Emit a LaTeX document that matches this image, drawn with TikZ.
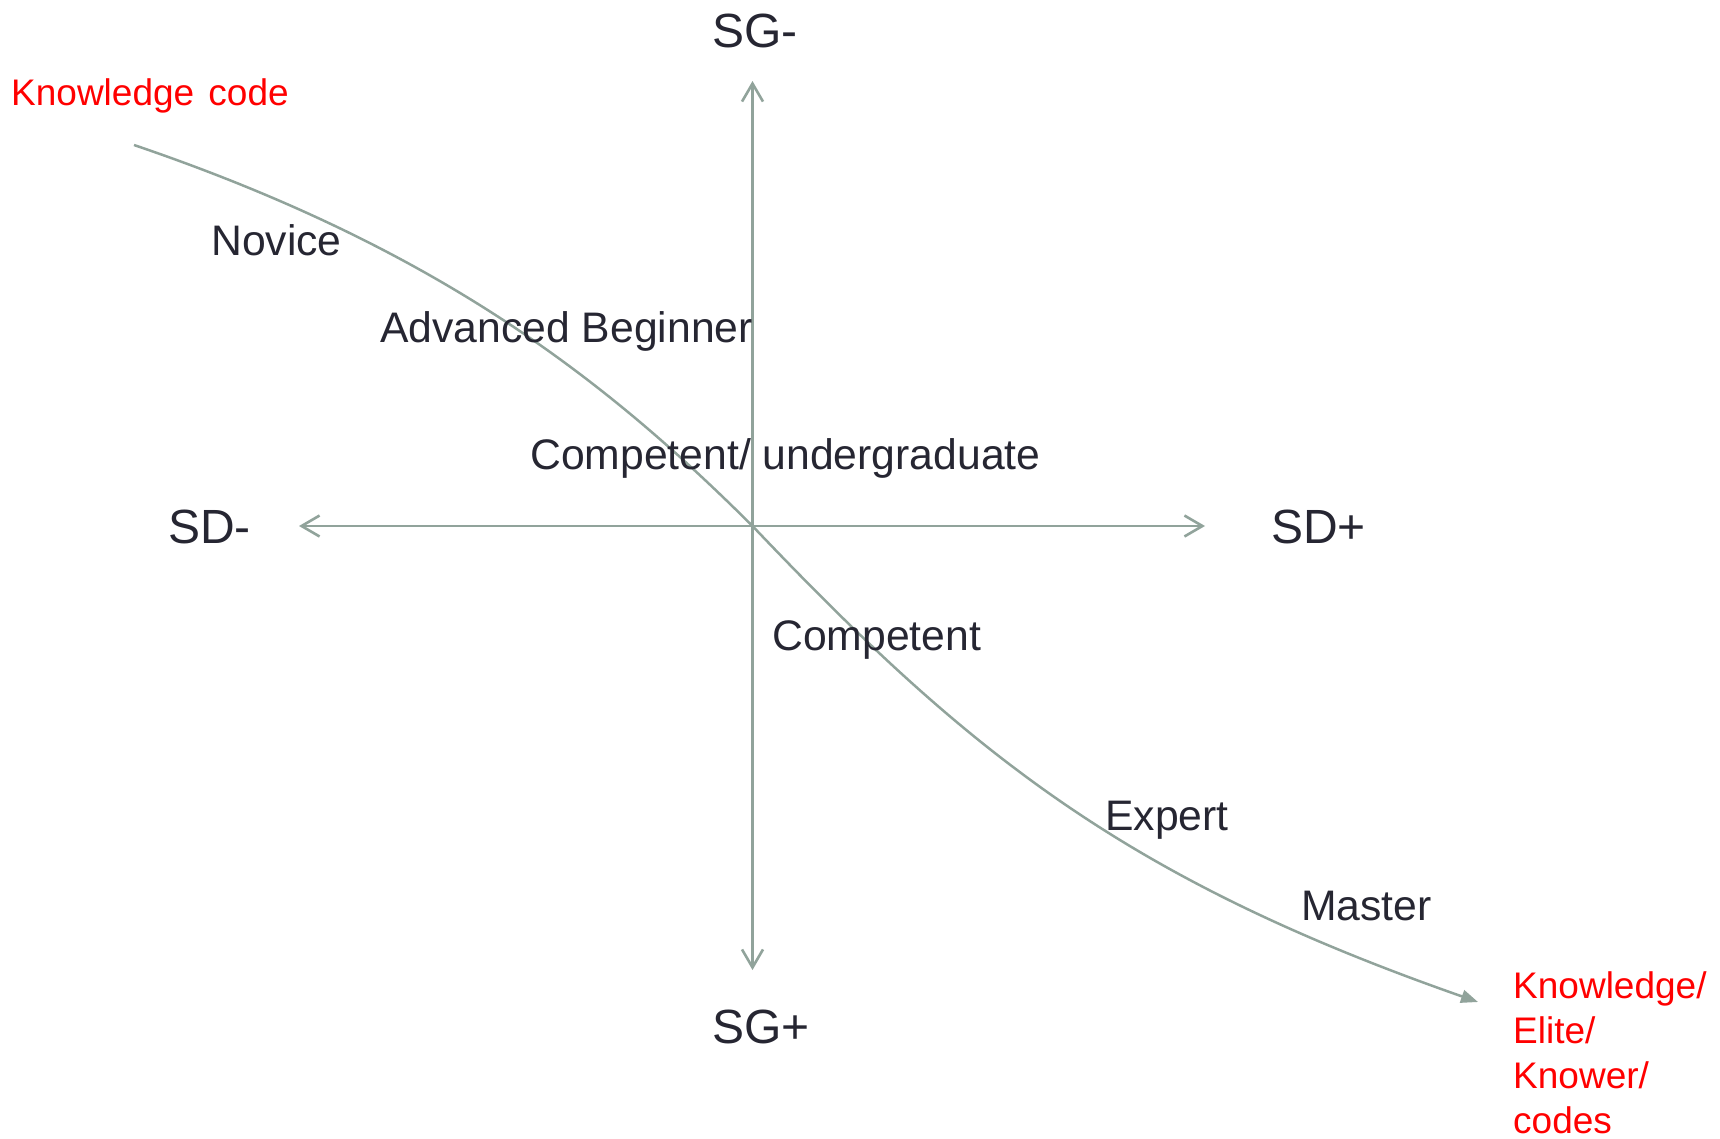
\documentclass[tikz,border=0pt]{standalone}
\usepackage{fontspec}
\setmainfont{Liberation Sans}
\usetikzlibrary{arrows.meta}
\definecolor{axisgray}{RGB}{145,163,155}
\definecolor{labelink}{RGB}{38,38,50}
\definecolor{codered}{RGB}{255,0,0}
\begin{document}
\begin{tikzpicture}[x=1pt,y=-1pt,
  barb/.tip={Straight Barb[length=18pt,width=21pt]},
  axisline/.style={draw=axisgray, line width=2.6pt, barb-barb},
  pathcurve/.style={draw=axisgray, line width=2.5pt, -{Triangle[length=17pt,width=13pt]}},
  axislabel/.style={anchor=base west, inner sep=0pt, text=labelink, font=\fontsize{48}{56}\selectfont},
  stage/.style={anchor=base west, inner sep=0pt, text=labelink, font=\fontsize{42.7}{52}\selectfont},
  codelabel/.style={anchor=base west, inner sep=0pt, text=codered, font=\fontsize{37}{45}\selectfont}]
  \useasboundingbox (0,0) rectangle (1720,1138);

  % axis end points and the origin
  \coordinate (origin) at (752.5,526);
  \coordinate (sgm-tip) at (752.5,81);
  \coordinate (sgp-tip) at (752.5,970);
  \coordinate (sdm-tip) at (299,526);
  \coordinate (sdp-tip) at (1205,526);

  % axes
  \draw[axisline] (sgp-tip) -- (sgm-tip);
  \draw[axisline] (sdm-tip) -- (sdp-tip);

  % axis labels
  \node[axislabel] (sgm) at (712,47) {SG-};
  \node[axislabel] (sgp) at (712,1043) {SG+};
  \node[axislabel] (sdm) at (168,543) {SD-};
  \node[axislabel] (sdp) at (1271,543) {SD+};

  % code labels at the two ends of the trajectory
  \node[codelabel] (kcode) at (11,105) {Knowledge\kern4pt{} code};
  \node[codelabel] (kelite) at (1513,998)
    {\begin{tabular}[t]{@{}l@{}}Knowledge/\\Elite/\\Knower/\\codes\end{tabular}};

  % trajectory from knowledge code to knower codes
  \coordinate (traj-start) at (134,145);
  \coordinate (traj-end) at (1478,1002);
  \coordinate (c1) at (434,247);
  \coordinate (c2) at (602,376);
  \coordinate (c3) at (972,757);
  \coordinate (c4) at (1128,879.5);
  \draw[pathcurve] (traj-start) .. controls (c1) and (c2) .. (origin)
                               .. controls (c3) and (c4) .. (traj-end);

  % stages along the trajectory
  \node[stage] (novice) at (211,255) {Novice};
  \node[stage] (advbeg) at (380,342) {Advanced Beginner};
  \node[stage] (compug) at (530,469) {Competent/ undergraduate};
  \node[stage] (comp) at (772,650) {Competent};
  \node[stage] (expert) at (1105,830) {Expert};
  \node[stage] (master) at (1301,920) {Master};
\end{tikzpicture}
\end{document}
